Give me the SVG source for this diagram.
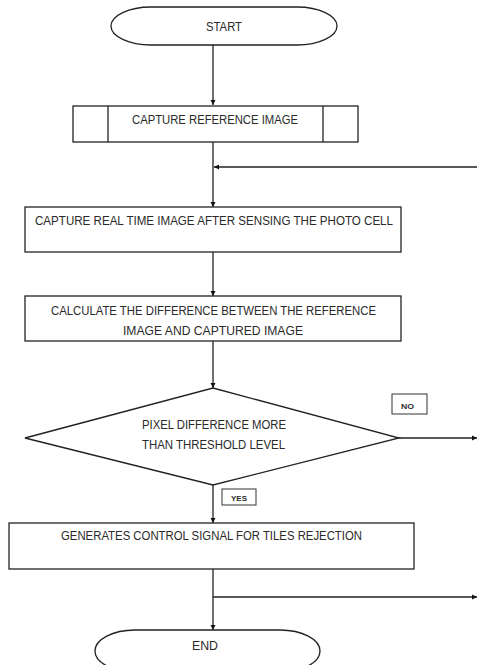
<svg xmlns="http://www.w3.org/2000/svg" width="478" height="665" viewBox="0 0 478 665">
<style>
.s{fill:#fff;stroke:#222;stroke-width:1.3}
.b{fill:#fff;stroke:#333;stroke-width:1}
.c{fill:none;stroke:#222;stroke-width:1.3}
text{font-family:"Liberation Sans",Arial,sans-serif;font-size:12px;fill:#2a2a2a;text-anchor:middle}
.sm{font-size:8px;font-weight:bold}
</style>
<defs>
<marker id="ah" markerWidth="6" markerHeight="6" refX="5" refY="3" orient="auto" markerUnits="userSpaceOnUse">
<path d="M0,0.5 L5,3 L0,5.5 Z" fill="#111"/>
</marker>
</defs>
<rect width="478" height="665" fill="#fff"/>
<g id="connectors">
<line class="c" x1="213" y1="45" x2="213" y2="105" marker-end="url(#ah)"/>
<line class="c" x1="213" y1="142" x2="213" y2="207" marker-end="url(#ah)"/>
<line class="c" x1="477" y1="167" x2="214" y2="167" marker-end="url(#ah)"/>
<line class="c" x1="213" y1="252" x2="213" y2="296" marker-end="url(#ah)"/>
<line class="c" x1="213" y1="341" x2="213" y2="388" marker-end="url(#ah)"/>
<line class="c" x1="399" y1="438" x2="477" y2="438" marker-end="url(#ah)"/>
<line class="c" x1="213" y1="485" x2="213" y2="523" marker-end="url(#ah)"/>
<line class="c" x1="213" y1="569" x2="213" y2="630" marker-end="url(#ah)"/>
<line class="c" x1="213" y1="597" x2="477" y2="597" marker-end="url(#ah)"/>
</g>
<g id="start">
<rect class="s" x="111" y="7" width="226" height="38" rx="40" ry="19"/>
<text x="224" y="31" textLength="36" lengthAdjust="spacingAndGlyphs">START</text>
</g>
<g id="capture-ref">
<rect class="s" x="73" y="106" width="285" height="36"/>
<line class="s" x1="108" y1="106" x2="108" y2="142"/>
<line class="s" x1="323" y1="106" x2="323" y2="142"/>
<text x="215" y="124" textLength="166" lengthAdjust="spacingAndGlyphs">CAPTURE REFERENCE IMAGE</text>
</g>
<g id="capture-real">
<rect class="s" x="25" y="207" width="376" height="45"/>
<text x="214" y="225" textLength="358" lengthAdjust="spacingAndGlyphs">CAPTURE REAL TIME IMAGE AFTER SENSING THE PHOTO CELL</text>
</g>
<g id="calculate">
<rect class="s" x="25" y="296" width="376" height="45"/>
<text x="213.5" y="315" textLength="325" lengthAdjust="spacingAndGlyphs">CALCULATE THE DIFFERENCE BETWEEN THE REFERENCE</text>
<text x="213" y="335" textLength="180" lengthAdjust="spacingAndGlyphs">IMAGE AND CAPTURED IMAGE</text>
</g>
<g id="decision">
<polygon class="s" points="213,388 399,438 213,485 25,438"/>
<text x="214" y="429" textLength="144" lengthAdjust="spacingAndGlyphs">PIXEL DIFFERENCE MORE</text>
<text x="213.5" y="449" textLength="143" lengthAdjust="spacingAndGlyphs">THAN THRESHOLD LEVEL</text>
</g>
<g id="no-label">
<rect class="b" x="392" y="394" width="35" height="20"/>
<text class="sm" x="407.5" y="409" textLength="13" lengthAdjust="spacingAndGlyphs">NO</text>
</g>
<g id="yes-label">
<rect class="b" x="222" y="489" width="34" height="16"/>
<text class="sm" x="239" y="501" textLength="16" lengthAdjust="spacingAndGlyphs">YES</text>
</g>
<g id="generate">
<rect class="s" x="9" y="523" width="405" height="46"/>
<text x="211.5" y="540" textLength="301" lengthAdjust="spacingAndGlyphs">GENERATES CONTROL SIGNAL FOR TILES REJECTION</text>
</g>
<g id="end">
<rect class="s" x="95" y="630" width="225" height="42" rx="40" ry="21"/>
<text x="205" y="650" textLength="26" lengthAdjust="spacingAndGlyphs">END</text>
</g>
</svg>
